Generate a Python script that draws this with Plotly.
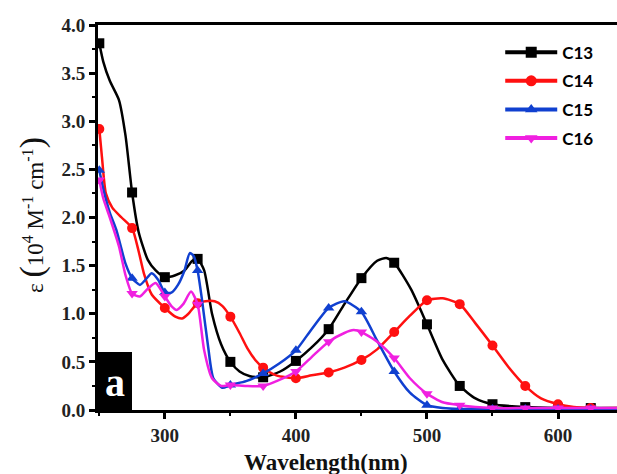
import plotly.graph_objects as go

# ---- data ----
c13_nm = [250, 253, 258, 265, 270, 275, 280, 287, 293, 300, 308, 315, 321, 325, 330, 336, 343, 350, 357, 365, 375, 388, 400, 412, 425, 437, 450, 462, 469, 475, 488, 500, 512, 525, 537, 550, 575, 600, 625, 645]
c13_eps = [3.81, 3.62, 3.42, 3.22, 2.85, 2.26, 1.85, 1.56, 1.45, 1.38, 1.40, 1.45, 1.55, 1.57, 1.45, 1.00, 0.68, 0.50, 0.40, 0.35, 0.34, 0.40, 0.51, 0.65, 0.84, 1.10, 1.37, 1.55, 1.58, 1.53, 1.25, 0.89, 0.52, 0.25, 0.12, 0.06, 0.03, 0.02, 0.02, 0.02]

c14_nm = [250, 252, 255, 260, 267, 275, 280, 284, 290, 300, 308, 313, 318, 325, 331, 338, 344, 350, 357, 363, 369, 375, 385, 400, 412, 425, 437, 450, 462, 475, 487, 500, 512, 525, 537, 550, 562, 575, 587, 600, 612, 625, 645]
c14_eps = [2.92, 2.63, 2.25, 2.10, 2.00, 1.89, 1.65, 1.42, 1.20, 1.06, 0.97, 0.95, 1.00, 1.11, 1.13, 1.13, 1.08, 0.97, 0.80, 0.64, 0.52, 0.44, 0.36, 0.33, 0.36, 0.39, 0.44, 0.52, 0.63, 0.81, 0.98, 1.14, 1.16, 1.10, 0.90, 0.67, 0.45, 0.25, 0.12, 0.06, 0.03, 0.02, 0.02]

c15_nm = [250, 253, 258, 263, 270, 275, 281, 285, 290, 295, 300, 305, 310, 315, 319, 322, 325, 328, 333, 337, 344, 350, 362, 375, 387, 400, 412, 425, 437, 450, 462, 475, 487, 500, 512, 525, 550, 575, 600, 625, 645]
c15_eps = [2.49, 2.30, 2.05, 1.87, 1.52, 1.37, 1.30, 1.35, 1.42, 1.35, 1.22, 1.22, 1.30, 1.45, 1.63, 1.60, 1.45, 1.18, 0.66, 0.33, 0.23, 0.26, 0.30, 0.38, 0.48, 0.62, 0.84, 1.06, 1.13, 1.02, 0.72, 0.40, 0.18, 0.05, 0.02, 0.01, 0.01, 0.01, 0.01, 0.01, 0.01]

c16_nm = [250, 253, 258, 265, 270, 275, 281, 287, 293, 300, 305, 309, 314, 320, 325, 330, 336, 343, 350, 362, 375, 387, 400, 412, 425, 437, 444, 450, 462, 475, 487, 500, 512, 525, 537, 550, 575, 600, 625, 645]
c16_eps = [2.39, 2.20, 2.00, 1.70, 1.40, 1.21, 1.18, 1.26, 1.32, 1.18, 1.08, 1.04, 1.10, 1.23, 1.10, 0.62, 0.33, 0.25, 0.26, 0.25, 0.25, 0.31, 0.40, 0.55, 0.71, 0.80, 0.83, 0.81, 0.71, 0.54, 0.33, 0.17, 0.08, 0.05, 0.03, 0.02, 0.02, 0.02, 0.02, 0.02]

names = ["C13", "C14", "C15", "C16"]
colors = ["#000000", "#ff1010", "#1040d0", "#f020e0"]
symbols = ["square", "circle", "triangle-up", "triangle-down"]
series = [(c13_nm, c13_eps), (c14_nm, c14_eps), (c15_nm, c15_eps), (c16_nm, c16_eps)]

x_ticks = [300, 400, 500, 600]
y_ticks = [0.0, 0.5, 1.0, 1.5, 2.0, 2.5, 3.0, 3.5, 4.0]

fig = go.Figure()
for (nm, eps), name, col, sym in zip(series, names, colors, symbols):
    fig.add_trace(go.Scatter(x=nm, y=eps, mode="lines", line=dict(color=col, width=2.5, shape="spline", smoothing=0.6),
                             showlegend=False, hoverinfo="skip"))
    mx = [a for a in nm if a % 25 == 0 and a <= 625]
    my = [b for a, b in zip(nm, eps) if a % 25 == 0 and a <= 625]
    fig.add_trace(go.Scatter(x=mx, y=my, mode="markers", marker=dict(color=col, symbol=sym, size=10),
                             showlegend=False))
for name, col, sym in zip(names, colors, symbols):
    fig.add_trace(go.Scatter(x=[None], y=[None], mode="lines+markers", name=name, legendgroup=name,
                             line=dict(color=col, width=4), marker=dict(color=col, symbol=sym, size=11)))

serif_bold = dict(family="Liberation Serif", size=19, color="#222222", weight="bold")

fig.update_layout(
    width=617, height=474,
    margin=dict(l=98, r=0, t=25, b=64),
    paper_bgcolor="white", plot_bgcolor="white",
    showlegend=True,
    legend=dict(x=0.775, y=0.975, xanchor="left", yanchor="top", bgcolor="rgba(0,0,0,0)",
                font=dict(family="Lato", size=17, color="#000000", weight="bold"),
                tracegroupgap=3.5, itemwidth=52),
    xaxis=dict(range=[249, 645], tickvals=x_ticks, showgrid=False, zeroline=False,
               showline=True, linewidth=3, linecolor="black", mirror=True,
               ticks="outside", ticklen=6, tickwidth=3, tickcolor="black",
               tickfont=serif_bold,
               minor=dict(dtick=50, tick0=250, ticks="outside", ticklen=3, tickwidth=2, tickcolor="black")),
    yaxis=dict(range=[0, 4.0], tickvals=y_ticks, ticktext=[f"{v:.1f}" for v in y_ticks],
               showgrid=False, zeroline=False,
               showline=True, linewidth=3, linecolor="black",
               ticks="outside", ticklen=6, tickwidth=3, tickcolor="black",
               tickfont=serif_bold,
               minor=dict(dtick=0.25, ticks="outside", ticklen=3, tickwidth=2, tickcolor="black")),
)

# axis titles
fig.add_annotation(xref="paper", yref="paper", x=(326 - 98) / 519, y=(410 - 462) / 385,
                   xanchor="center", yanchor="middle", showarrow=False,
                   text="Wavelength(nm)",
                   font=dict(family="Liberation Serif", size=23, color="#111111", weight="bold"))
fig.add_annotation(xref="paper", yref="paper", x=(32 - 98) / 519, y=(410 - 215) / 385,
                   xanchor="center", yanchor="middle", showarrow=False, textangle=-90,
                   text="ε <span style='font-size:34px'>(</span>10<sup>4</sup> M<sup>-1</sup> cm<sup>-1</sup><span style='font-size:34px'>)</span>",
                   font=dict(family="Liberation Serif", size=23, color="#111111"))

# panel label "a"
fig.add_shape(type="rect", xref="paper", yref="paper", x0=-0.002, x1=(132 - 98) / 519, y0=0, y1=(410 - 352) / 385,
              fillcolor="black", line=dict(width=0), layer="above")
fig.add_annotation(xref="paper", yref="paper", x=(115 - 98) / 519, y=(410 - 382) / 385,
                   xanchor="center", yanchor="middle", showarrow=False, text="a",
                   font=dict(family="Liberation Serif", size=40, color="white", weight="bold"))

fig.write_html("out.html", config={"displayModeBar": False},
               post_script="document.body.style.margin='0';document.body.style.overflow='hidden';")
